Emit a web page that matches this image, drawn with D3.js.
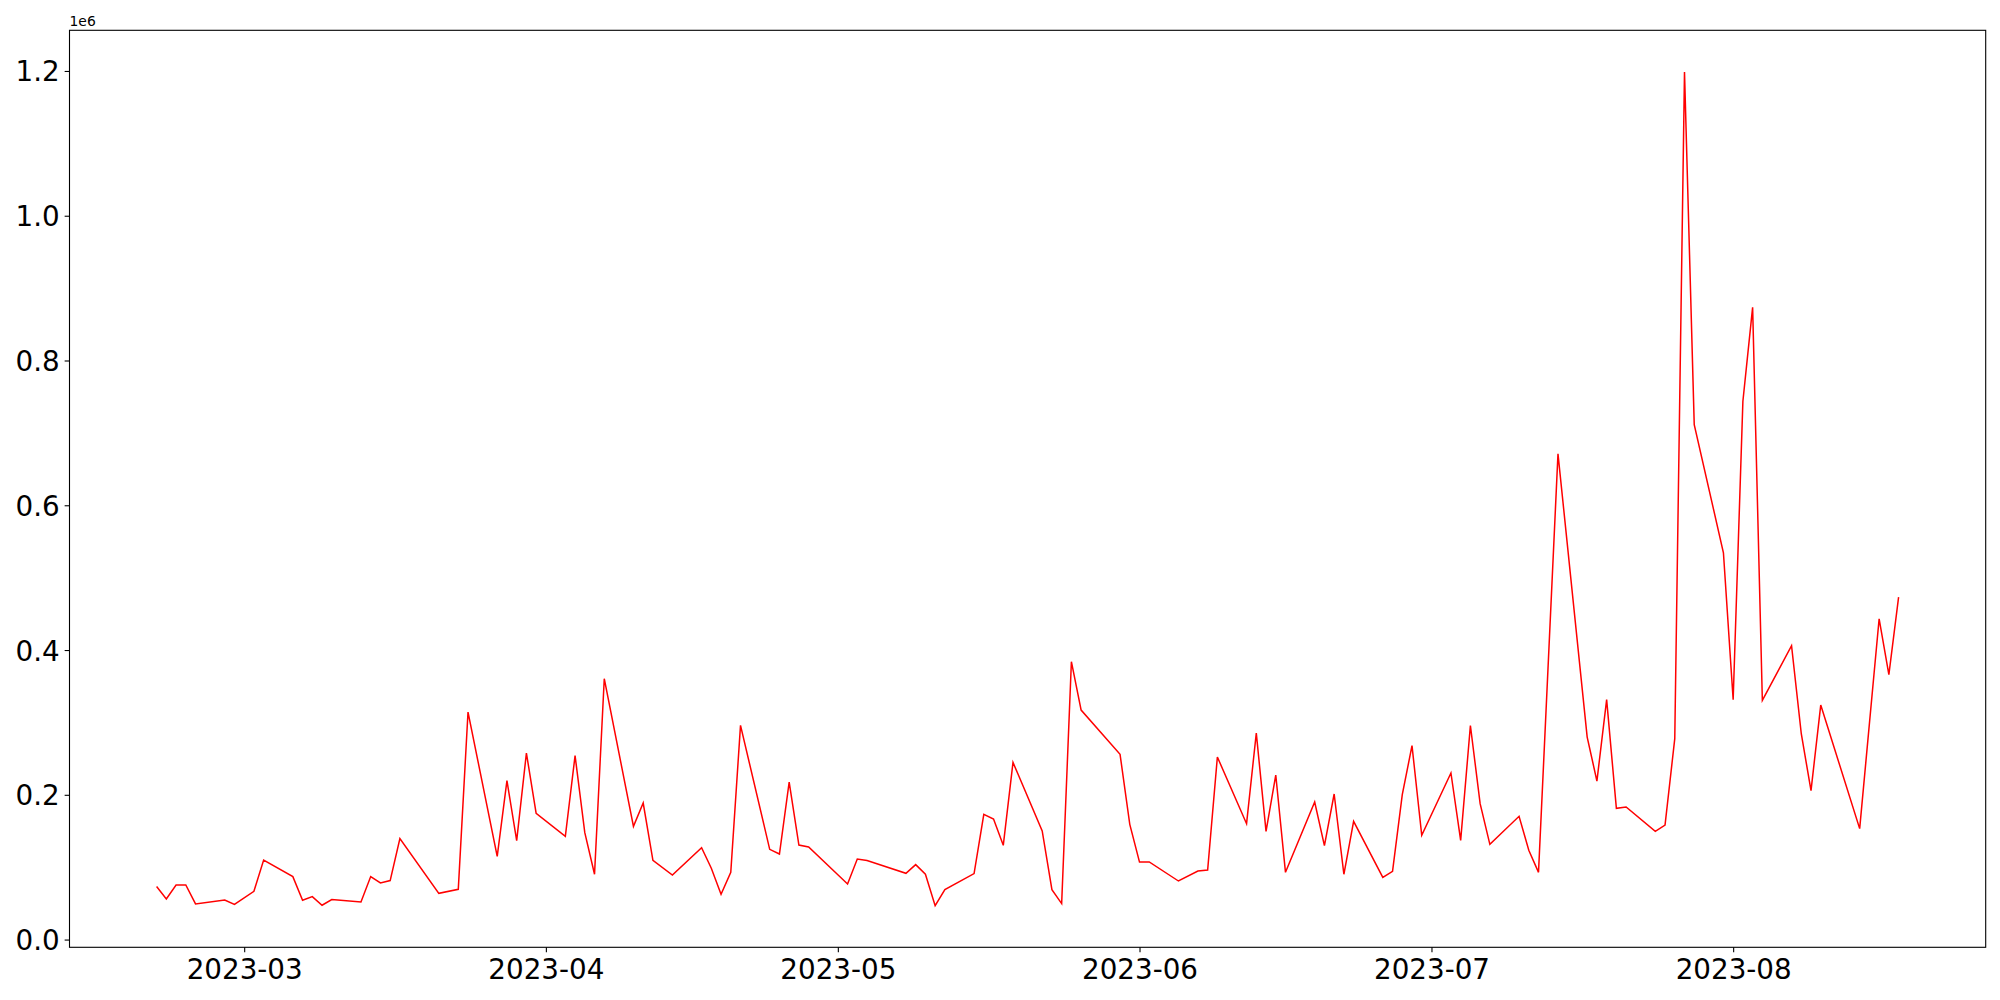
<!DOCTYPE html>
<html>
<head>
<meta charset="utf-8">
<script src="https://cdn.jsdelivr.net/npm/d3@7"></script>
<style>
  body { margin: 0; background: #fff; }
  svg { display: block; font-family: "DejaVu Sans", sans-serif; }
</style>
</head>
<body>
<svg id="chart" width="2000" height="1000"></svg>
<script>
// dates (trading days) and values
var dates = [
    "2023-02-20", "2023-02-21", "2023-02-22", "2023-02-23", "2023-02-24", "2023-02-27", "2023-02-28",
    "2023-03-02", "2023-03-03", "2023-03-06", "2023-03-07", "2023-03-08", "2023-03-09", "2023-03-10",
    "2023-03-13", "2023-03-14", "2023-03-15", "2023-03-16", "2023-03-17", "2023-03-21", "2023-03-23",
    "2023-03-24", "2023-03-27", "2023-03-28", "2023-03-29", "2023-03-30", "2023-03-31",
    "2023-04-03", "2023-04-04", "2023-04-05", "2023-04-06", "2023-04-07", "2023-04-10", "2023-04-11",
    "2023-04-12", "2023-04-14", "2023-04-17", "2023-04-18", "2023-04-19", "2023-04-20", "2023-04-21",
    "2023-04-24", "2023-04-25", "2023-04-26", "2023-04-27", "2023-04-28",
    "2023-05-02", "2023-05-03", "2023-05-04", "2023-05-08", "2023-05-09", "2023-05-10", "2023-05-11",
    "2023-05-12", "2023-05-15", "2023-05-16", "2023-05-17", "2023-05-18", "2023-05-19", "2023-05-22",
    "2023-05-23", "2023-05-24", "2023-05-25", "2023-05-26", "2023-05-30", "2023-05-31",
    "2023-06-01", "2023-06-02", "2023-06-05", "2023-06-07", "2023-06-08", "2023-06-09", "2023-06-12",
    "2023-06-13", "2023-06-14", "2023-06-15", "2023-06-16", "2023-06-19", "2023-06-20", "2023-06-21",
    "2023-06-22", "2023-06-23", "2023-06-26", "2023-06-27", "2023-06-28", "2023-06-29", "2023-06-30",
    "2023-07-03", "2023-07-04", "2023-07-05", "2023-07-06", "2023-07-07", "2023-07-10", "2023-07-11",
    "2023-07-12", "2023-07-14", "2023-07-17", "2023-07-18", "2023-07-19", "2023-07-20", "2023-07-21",
    "2023-07-24", "2023-07-25", "2023-07-26", "2023-07-27", "2023-07-28", "2023-07-31",
    "2023-08-01", "2023-08-02", "2023-08-03", "2023-08-04", "2023-08-07", "2023-08-08", "2023-08-09",
    "2023-08-10", "2023-08-14", "2023-08-16", "2023-08-17", "2023-08-18"
];

var values = [
    73200, 56100, 75400, 75400, 49200, 54700, 48700,
    66700, 109900, 87000, 54300, 59300, 47400, 55200,
    51900, 87000, 78200, 81500, 139500, 63900, 69400,
    314300, 115000, 219500, 136700, 257700, 174400,
    142600, 254100, 147700, 90200, 360400, 156400, 188600,
    109500, 89200, 127000, 98500, 62500, 92900, 295900,
    124700, 118200, 217600, 130600, 127900,
    76800, 111300, 109100, 91500, 103500, 90200, 46900,
    69000, 91100, 173000, 166600, 130200, 244800, 150000,
    69000, 49700, 383900, 317100, 255900, 159200,
    107000, 107200, 80900, 94700, 96100, 252200, 160100,
    285300, 149500, 227300, 92900, 190000, 129800, 201100,
    90200, 163400, 86000, 94300, 200200, 267900, 144000,
    230100, 137100, 295700, 187800, 131600, 170300, 123300,
    92900, 671100, 279800, 219000, 331400, 181300, 183100,
    149500, 158200, 277500, 1198600, 711500, 534400,
    331400, 743700, 873500, 330400, 406000, 284400, 205700,
    324000, 153300, 443200, 365900, 473100
];

var xTicks = ["2023-03-01", "2023-04-01", "2023-05-01", "2023-06-01", "2023-07-01", "2023-08-01"];
var yTicks = [0, 200000, 400000, 600000, 800000, 1000000, 1200000];

var parse = d3.utcParse("%Y-%m-%d");
var data = dates.map((d, i) => ({ date: parse(d), value: values[i] }));

var margin = { left: 69.5, top: 30.3, right: 14.3, bottom: 52.7 };
var W = 2000, H = 1000;
var innerW = W - margin.left - margin.right;
var innerH = H - margin.top - margin.bottom;

var fontSize = 27.78;   // 20pt
var tickLen = 4.86, tickPad = 4.86;

// matplotlib-like 5% margins
var xExt = d3.extent(data, d => +d.date);
var xPad = (xExt[1] - xExt[0]) * 0.05;
var yExt = d3.extent(data, d => d.value);
var yPad = (yExt[1] - yExt[0]) * 0.05;

var x = d3.scaleUtc()
    .domain([new Date(xExt[0] - xPad), new Date(xExt[1] + xPad)])
    .range([0, innerW]);

var y = d3.scaleLinear()
    .domain([yExt[0] - yPad, yExt[1] + yPad])
    .range([innerH, 0]);

var svg = d3.select("#chart");
var g = svg.append("g").attr("transform", `translate(${margin.left},${margin.top})`);

// line
g.append("path")
    .datum(data)
    .attr("fill", "none")
    .attr("stroke", "#ff0000")
    .attr("stroke-width", 1.5)
    .attr("stroke-linejoin", "miter")
    .attr("d", d3.line().x(d => x(d.date)).y(d => y(d.value)));

// x axis
var xAxis = g.append("g")
    .attr("transform", `translate(0,${innerH})`)
    .call(d3.axisBottom(x)
        .tickValues(xTicks.map(parse))
        .tickFormat(d3.utcFormat("%Y-%m"))
        .tickSize(tickLen)
        .tickPadding(tickPad)
        .tickSizeOuter(0));
xAxis.select(".domain").remove();
xAxis.selectAll("line").attr("stroke", "#000").attr("stroke-width", 1.1);
xAxis.selectAll("text")
    .attr("font-family", "DejaVu Sans")
    .attr("font-size", fontSize)
    .attr("fill", "#000")
    .attr("dy", "0.78em");

// y axis
var yAxis = g.append("g")
    .call(d3.axisLeft(y)
        .tickValues(yTicks)
        .tickFormat(d => (d / 1e6).toFixed(1))
        .tickSize(tickLen)
        .tickPadding(tickPad)
        .tickSizeOuter(0));
yAxis.select(".domain").remove();
yAxis.selectAll("line").attr("stroke", "#000").attr("stroke-width", 1.1);
yAxis.selectAll("text")
    .attr("font-family", "DejaVu Sans")
    .attr("font-size", fontSize)
    .attr("fill", "#000")
    .attr("dy", "0.36em");

// frame
g.append("rect")
    .attr("width", innerW)
    .attr("height", innerH)
    .attr("fill", "none")
    .attr("stroke", "#000")
    .attr("stroke-width", 1.1);

// offset label
g.append("text")
    .attr("x", 0)
    .attr("y", -4)
    .attr("font-family", "DejaVu Sans")
    .attr("font-size", 13.9)
    .attr("fill", "#000")
    .text("1e6");
</script>
</body>
</html>
